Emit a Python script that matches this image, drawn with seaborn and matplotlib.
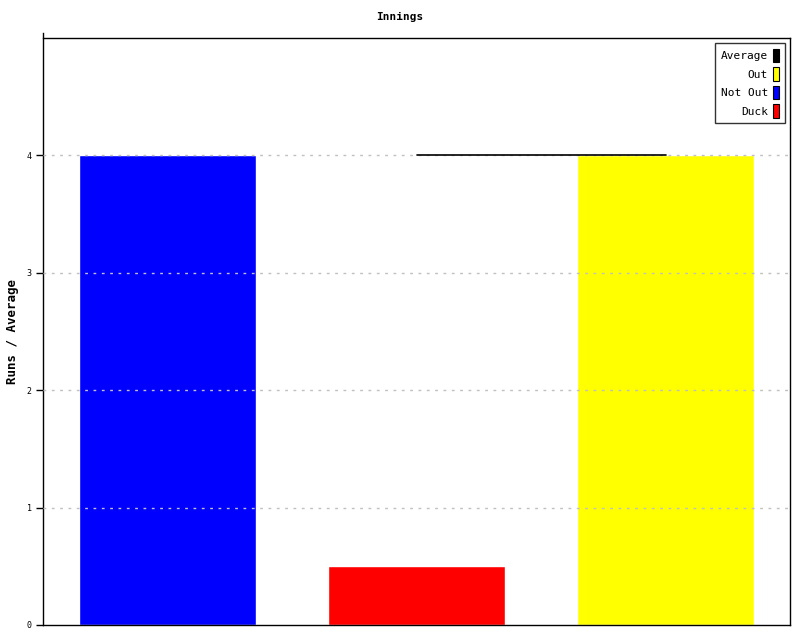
#!/usr/bin/env python3
"""
Innings chart: runs per innings type with average line
"""

import pandas as pd
import numpy as np
import matplotlib
matplotlib.use('Agg')
import matplotlib.pyplot as plt
import seaborn as sns
from matplotlib.patches import Patch

# Data
categories = ['Not Out', 'Duck', 'Out']
runs = [4, 0.5, 4]
bar_colors = ['#0000ff', '#ff0000', '#ffff00']
average = [np.nan, 4, 4]

legend_labels = ['Average', 'Out', 'Not Out', 'Duck']
legend_colors = ['#000000', '#ffff00', '#0000ff', '#ff0000']

df = pd.DataFrame({'category': categories, 'runs': runs})

sns.set_style('white')
plt.rcParams['font.family'] = ['DejaVu Sans Mono']
plt.rcParams['text.color'] = 'black'
plt.rcParams['axes.labelcolor'] = 'black'
plt.rcParams['ytick.color'] = 'black'

fig = plt.figure(figsize=(8, 6.4), dpi=100)
ax = fig.add_axes([43 / 800, 15 / 640, 747 / 800, 587 / 640])

sns.barplot(data=df, x='category', y='runs', hue='category', palette=bar_colors,
            width=0.707, saturation=1, legend=False, ax=ax, zorder=2)

# average line
ax.plot(range(len(categories)), average, color='black', linewidth=1.2, zorder=4)

ax.set_xlim(-0.5, 2.5)
ax.set_ylim(0, 5)
ax.set_yticks([0, 1, 2, 3, 4])
ax.set_yticklabels(['0', '1', '2', '3', '4'], fontsize=6)
ax.set_xticks([])
ax.set_xlabel('')
ax.set_ylabel('Runs / Average', fontsize=9, fontweight='bold', va='center')
ax.yaxis.set_label_coords(-30 / 747, 0.5)
ax.tick_params(axis='y', direction='out', length=5, width=1, color='black', pad=3, left=True)

for y in [1, 2, 3, 4]:
    ax.axhline(y, color='#c0c0c0', linestyle=(0, (2, 4)), linewidth=1, zorder=3)

for side in ['left', 'right', 'top', 'bottom']:
    ax.spines[side].set_visible(True)
    ax.spines[side].set_color('black')
    ax.spines[side].set_linewidth(1)
ax.spines['left'].set_bounds(0, 5.04)

fig.text(0.5, 1 - 17 / 640, 'Innings', ha='center', va='center', fontsize=8, fontweight='bold')

handles = [Patch(facecolor=c, edgecolor='black', linewidth=0.8) for c in legend_colors]
leg = ax.legend(handles, legend_labels, loc='upper right', markerfirst=False,
                fontsize=8, frameon=True, fancybox=False, handlelength=0.55,
                handleheight=1.5, handletextpad=0.5, labelspacing=0.45,
                borderpad=0.5, borderaxespad=0.45)
leg.get_frame().set_edgecolor('black')
leg.get_frame().set_linewidth(1)
leg.set_zorder(5)

fig.savefig('out.png', dpi=100)
print("Plot saved as out.png")
